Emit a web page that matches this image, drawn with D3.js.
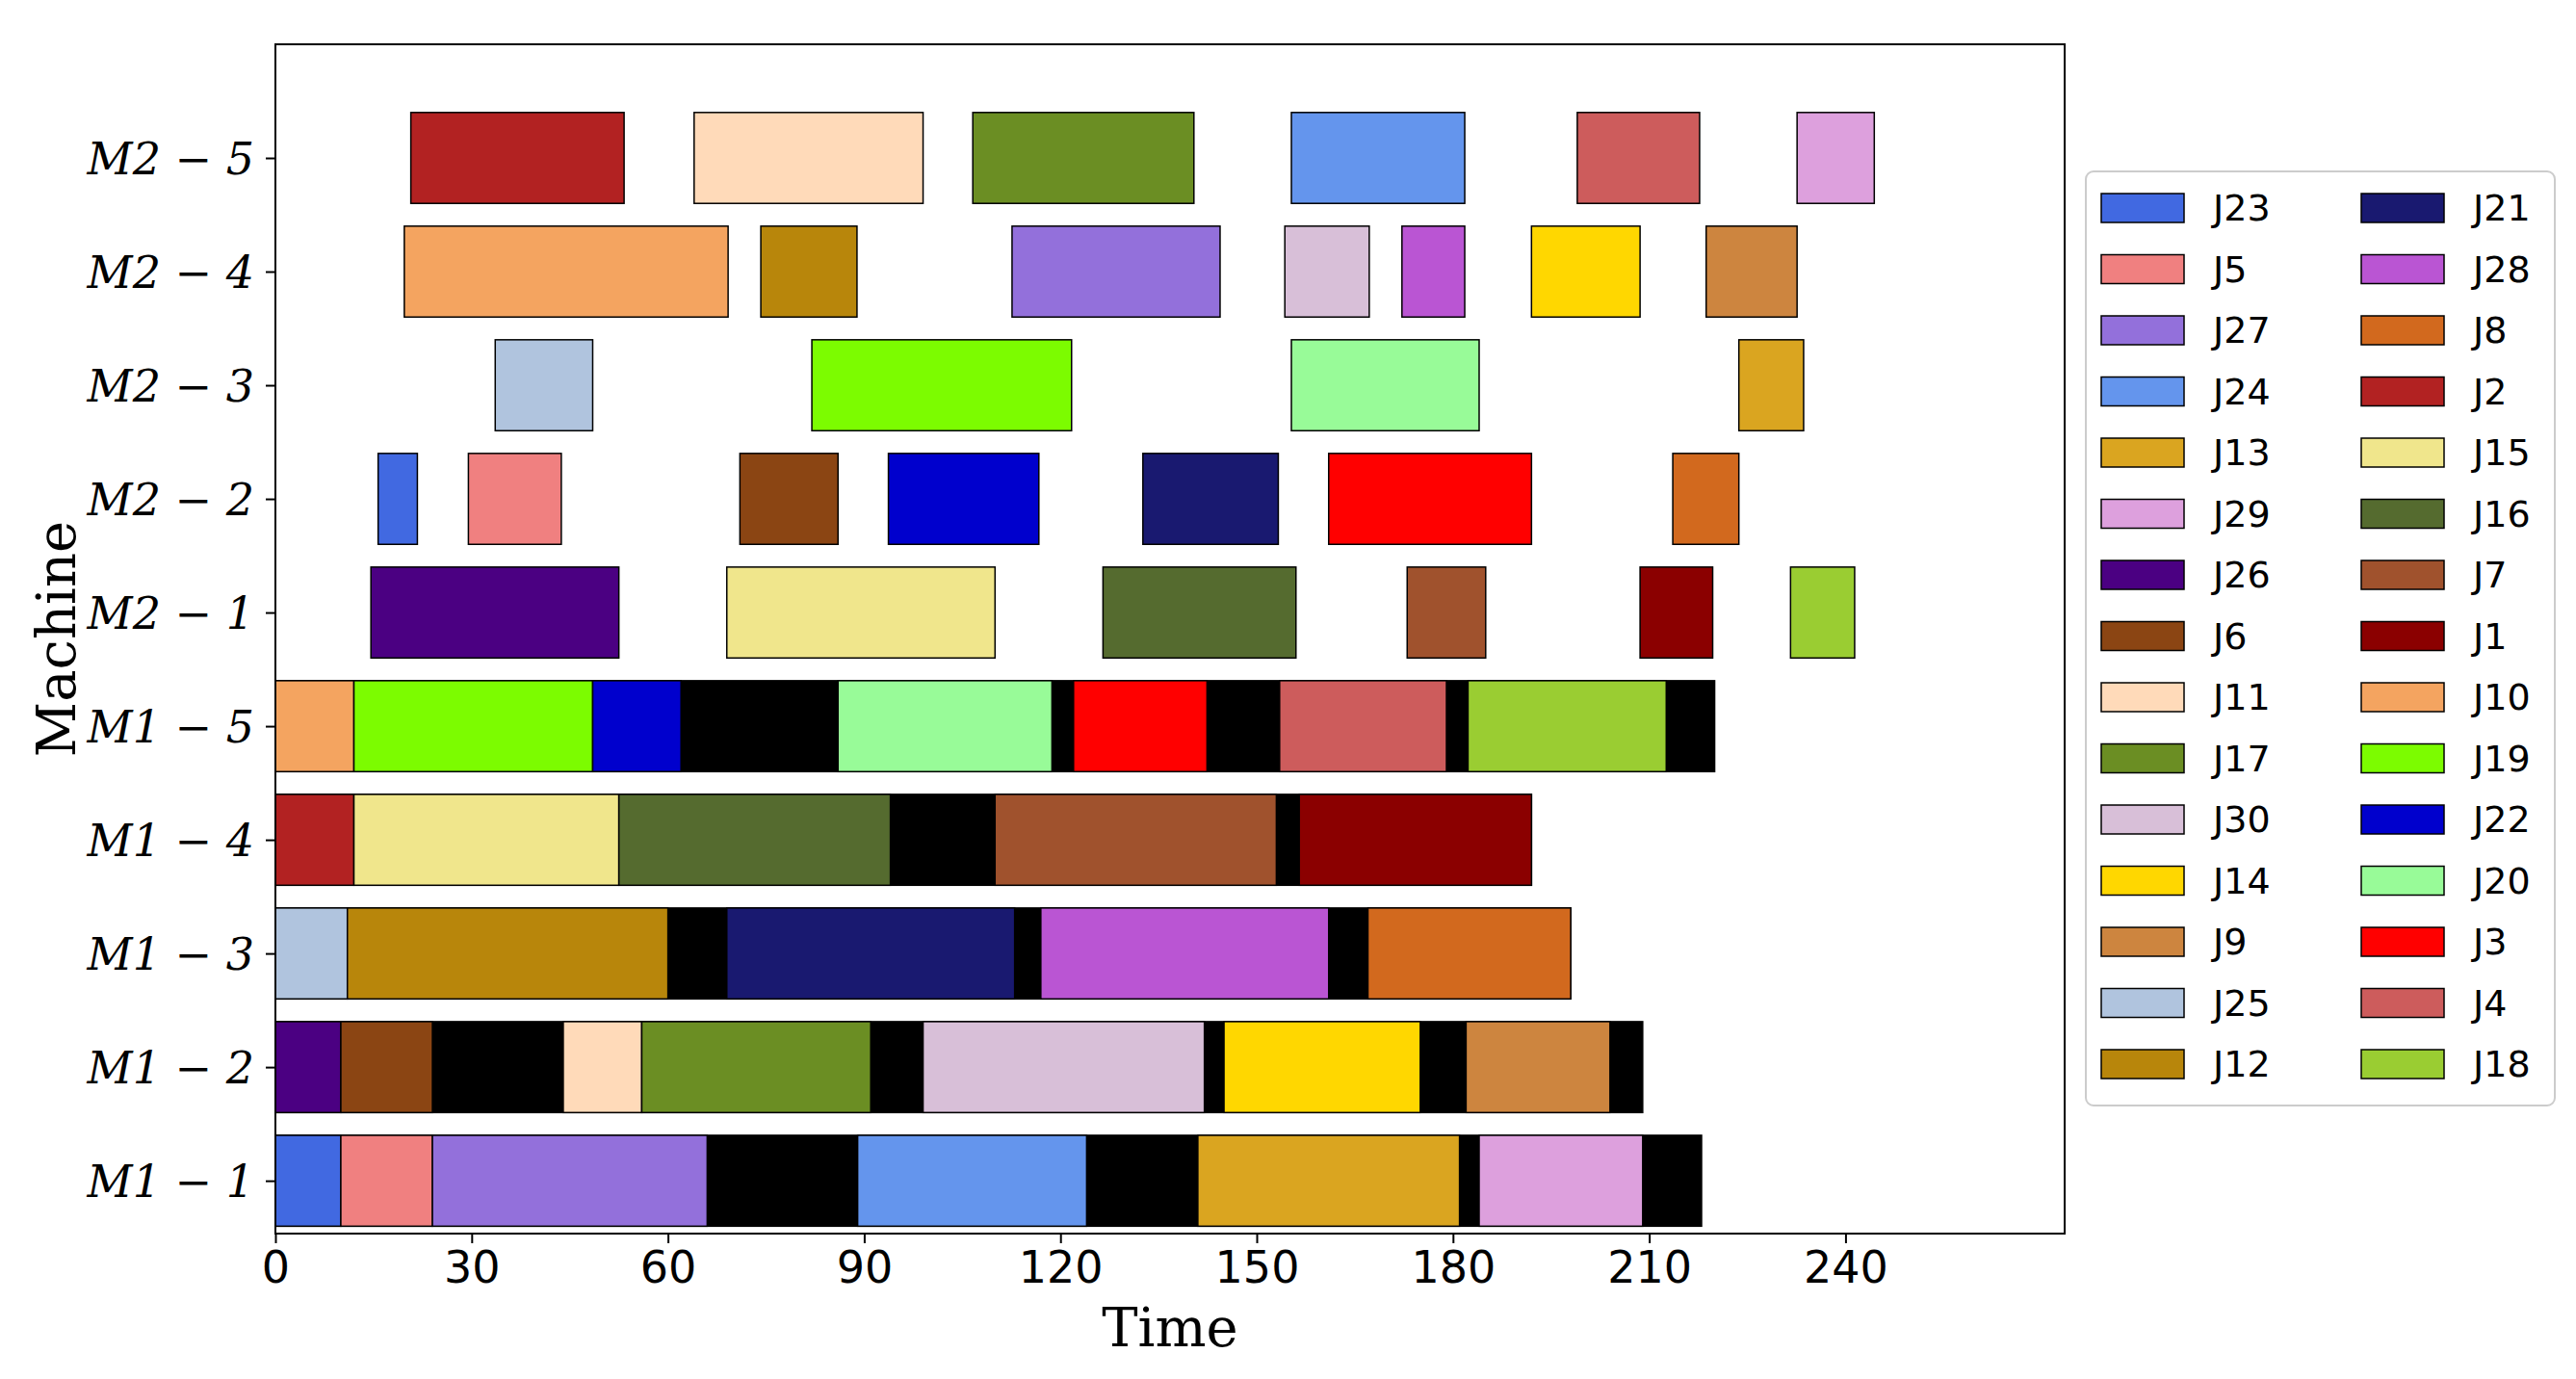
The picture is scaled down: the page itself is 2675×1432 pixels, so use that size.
<!DOCTYPE html>
<html>
<head>
<meta charset="utf-8">
<script src="https://cdn.jsdelivr.net/npm/d3@7"></script>
<style>
  body { margin: 0; background: #fff; }
  svg text { fill: #000; }
</style>
</head>
<body>
<svg id="chart" width="2675" height="1432"></svg>
<script>
"use strict";

var machines = ["M1 − 1", "M1 − 2", "M1 − 3", "M1 − 4", "M1 − 5",
                "M2 − 1", "M2 − 2", "M2 − 3", "M2 − 4", "M2 − 5"];
var timeTicks = [0, 30, 60, 90, 120, 150, 180, 210, 240];

var legendJobs = ["J23","J5","J27","J24","J13","J29","J26","J6","J11","J17","J30","J14","J9","J25","J12",
                  "J21","J28","J8","J2","J15","J16","J7","J1","J10","J19","J22","J20","J3","J4","J18"];
var jobColors = ["royalblue","lightcoral","mediumpurple","cornflowerblue","goldenrod","plum","indigo","saddlebrown",
                 "peachpuff","olivedrab","thistle","gold","peru","lightsteelblue","darkgoldenrod",
                 "midnightblue","mediumorchid","chocolate","firebrick","khaki","darkolivegreen","sienna","darkred",
                 "sandybrown","lawngreen","mediumblue","palegreen","red","indianred","yellowgreen"];

// idle (black) span per first-stage machine: [machine, end]
var idleSpans = [["M1 − 1", 218], ["M1 − 2", 209], ["M1 − 3", 198], ["M1 − 4", 192], ["M1 − 5", 220]];

// operations: [machine, job, start, end]
var stage1Ops = [
  ["M1 − 1","J23",0,10],["M1 − 1","J5",10,24],["M1 − 1","J27",24,66],["M1 − 1","J24",89,124],
  ["M1 − 1","J13",141,181],["M1 − 1","J29",184,209],
  ["M1 − 2","J26",0,10],["M1 − 2","J6",10,24],["M1 − 2","J11",44,56],["M1 − 2","J17",56,91],
  ["M1 − 2","J30",99,142],["M1 − 2","J14",145,175],["M1 − 2","J9",182,204],
  ["M1 − 3","J25",0,11],["M1 − 3","J12",11,60],["M1 − 3","J21",69,113],["M1 − 3","J28",117,161],
  ["M1 − 3","J8",167,198],
  ["M1 − 4","J2",0,12],["M1 − 4","J15",12,52.5],["M1 − 4","J16",52.5,94],["M1 − 4","J7",110,153],
  ["M1 − 4","J1",156.5,192],
  ["M1 − 5","J10",0,12],["M1 − 5","J19",12,48.5],["M1 − 5","J22",48.5,62],["M1 − 5","J20",86,118.7],
  ["M1 − 5","J3",122,142.4],["M1 − 5","J4",153.5,179],["M1 − 5","J18",182.3,212.6]
];
var stage2Ops = [
  ["M2 − 1","J26",14.6,52.5],["M2 − 1","J15",69,110],["M2 − 1","J16",126.5,156],["M2 − 1","J7",173,185],
  ["M2 − 1","J1",208.6,219.7],["M2 − 1","J18",231.6,241.4],
  ["M2 − 2","J23",15.7,21.7],["M2 − 2","J5",29.5,43.7],["M2 − 2","J6",71,86],["M2 − 2","J22",93.7,116.7],
  ["M2 − 2","J21",132.6,153.3],["M2 − 2","J3",161,192],["M2 − 2","J8",213.6,223.7],
  ["M2 − 3","J25",33.6,48.5],["M2 − 3","J19",82,121.7],["M2 − 3","J20",155.3,184],["M2 − 3","J13",223.7,233.6],
  ["M2 − 4","J10",19.7,69.2],["M2 − 4","J12",74.2,88.9],["M2 − 4","J27",112.6,144.4],["M2 − 4","J30",154.3,167.2],
  ["M2 − 4","J28",172.2,181.8],["M2 − 4","J14",192,208.6],["M2 − 4","J9",218.7,232.6],
  ["M2 − 5","J2",20.7,53.3],["M2 − 5","J11",64,99],["M2 − 5","J17",106.6,140.4],["M2 − 5","J24",155.3,181.8],
  ["M2 − 5","J4",199,217.7],["M2 − 5","J29",232.6,244.4]
];

var colorOf = d3.scaleOrdinal().domain(legendJobs).range(jobColors);

var svg = d3.select("#chart");
var L = 286, R = 2144, T = 46, B = 1281;

var x = d3.scaleLinear().domain([0, 273.5]).range([L, R]);
var yIdx = d3.scaleLinear().domain([-0.465, 10.0]).range([B, T]);
var barH = yIdx(0) - yIdx(0.8);
function yc(m) { return yIdx(machines.indexOf(m)); }

var g = svg.append("g");

g.selectAll("rect.idle").data(idleSpans).enter().append("rect")
  .attr("x", x(0)).attr("width", function(d){ return x(d[1]) - x(0); })
  .attr("y", function(d){ return yc(d[0]) - barH / 2; }).attr("height", barH)
  .attr("fill", "#000").attr("stroke", "#000").attr("stroke-width", 1.5);

g.selectAll("rect.op").data(stage1Ops.concat(stage2Ops)).enter().append("rect")
  .attr("x", function(d){ return x(d[2]); })
  .attr("width", function(d){ return x(d[3]) - x(d[2]); })
  .attr("y", function(d){ return yc(d[0]) - barH / 2; }).attr("height", barH)
  .attr("fill", function(d){ return colorOf(d[1]); })
  .attr("stroke", "#000").attr("stroke-width", 1.5);

// frame
svg.append("rect").attr("x", L).attr("y", T).attr("width", R - L).attr("height", B - T)
  .attr("fill", "none").attr("stroke", "#000").attr("stroke-width", 2);

// x axis
var xAxis = svg.append("g").attr("transform", "translate(0," + B + ")")
  .call(d3.axisBottom(x).tickValues(timeTicks).tickSize(10).tickPadding(8));
xAxis.select(".domain").remove();
xAxis.selectAll("line").attr("stroke-width", 2);
xAxis.selectAll("text").attr("font-family", "DejaVu Sans").attr("font-size", 46);

// y axis
var yAxis = svg.append("g").attr("transform", "translate(" + L + ",0)")
  .call(d3.axisLeft(yIdx).tickValues(d3.range(machines.length))
    .tickFormat(function(i){ return machines[i]; }).tickSize(10).tickPadding(12));
yAxis.select(".domain").remove();
yAxis.selectAll("line").attr("stroke-width", 2);
yAxis.selectAll("text").attr("font-family", "DejaVu Serif").attr("font-style", "italic").attr("font-size", 46)
  .attr("dy", "0.35em");

svg.append("text").attr("x", (L + R) / 2).attr("y", 1398).attr("text-anchor", "middle")
  .attr("font-family", "DejaVu Serif").attr("font-size", 56).text("Time");
svg.append("text").attr("transform", "translate(78," + ((T + B) / 2) + ") rotate(-90)")
  .attr("text-anchor", "middle").attr("font-family", "DejaVu Serif").attr("font-size", 56).text("Machine");

// legend
var lg = svg.append("g");
lg.append("rect").attr("x", 2166).attr("y", 178).attr("width", 487).attr("height", 970).attr("rx", 8)
  .attr("fill", "#fff").attr("stroke", "#ccc").attr("stroke-width", 2);
var items = lg.selectAll("g.item").data(legendJobs).enter().append("g")
  .attr("transform", function(d, i){
    var col = Math.floor(i / 15), row = i % 15;
    return "translate(" + (2182 + col * 270) + "," + (216 + row * 63.5) + ")";
  });
items.append("rect").attr("x", 0).attr("y", -15).attr("width", 86).attr("height", 30)
  .attr("fill", function(d){ return colorOf(d); }).attr("stroke", "#000").attr("stroke-width", 1.5);
items.append("text").attr("x", 116).attr("y", 0).attr("dy", "0.35em")
  .attr("font-family", "DejaVu Sans").attr("font-size", 38).text(function(d){ return d; });
</script>
</body>
</html>
